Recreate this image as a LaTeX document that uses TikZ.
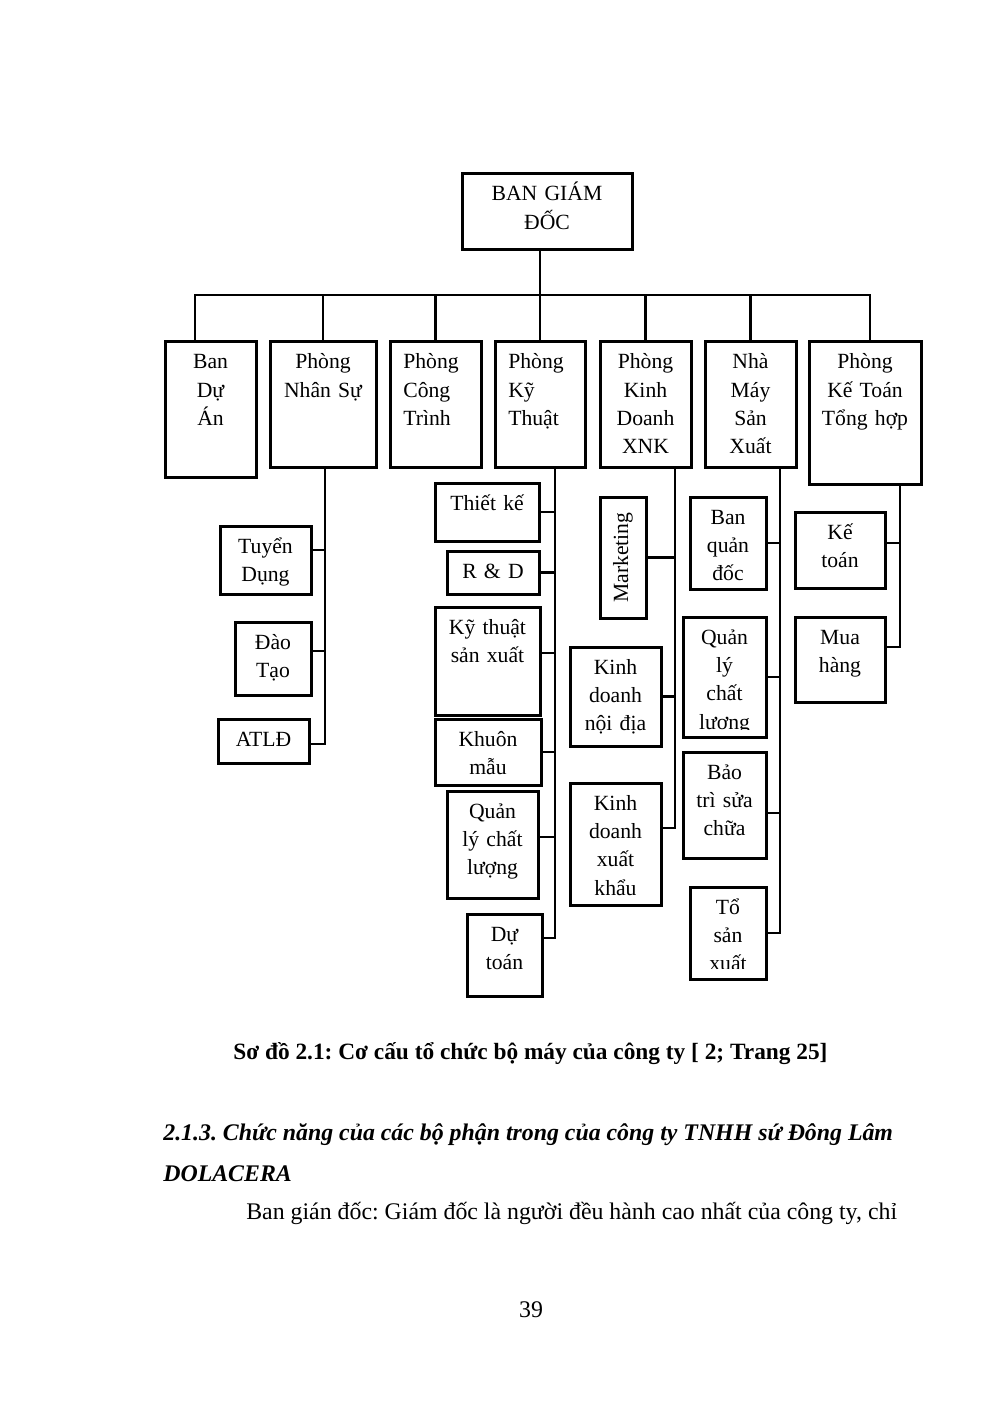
\documentclass[tikz,border=0pt]{standalone}
\usepackage{fontspec}
\setmainfont{Liberation Serif}
\usepackage{graphicx}
\frenchspacing

\newcommand\boxfont{\fontsize{13}{17}\selectfont}

\tikzset{
  box/.style 2 args={draw, line width=1.8pt, anchor=north west, outer sep=0pt,
    inner xsep=2pt, inner ysep=0pt, align=center, font=\boxfont,
    text width=#1*0.6pt-4pt, text height=16.2pt, text depth=#2*0.6pt-16.2pt},
  lbox/.style 2 args={box={#1}{#2}, inner xsep=8pt, align=left, text width=#1*0.6pt-16pt},
  vbox/.style 2 args={draw, line width=1.8pt, anchor=north west, outer sep=0pt,
    inner sep=0pt, font=\boxfont, minimum width=#1*0.6pt, minimum height=#2*0.6pt},
  link/.style={line width=1.5pt},
  txt/.style={anchor=base west, inner sep=0pt},
}

\begin{document}
\begin{tikzpicture}[x=0.6pt,y=-0.6pt]
  \useasboundingbox (0,0) rectangle (992,1403);

  % ban giam doc + phong ban
  \node[box={170}{76}] (bgd) at (462,174) {BAN GIÁM\\ĐỐC};

  \node[box={91}{135}] (bda) at (165,342) {Ban\\Dự\\Án};
  \node[box={106}{125}] (pns) at (270,342) {Phòng\\Nhân Sự};
  \node[lbox={91}{125}] (pct) at (390,342) {Phòng\\Công\\Trình};
  \node[lbox={90}{125}] (pkt) at (495,342) {Phòng\\Kỹ\\Thuật};
  \node[box={91}{125}] (pkd) at (600,342) {Phòng\\Kinh\\Doanh\\XNK};
  \node[box={91}{125}] (nmsx) at (705,342) {Nhà\\Máy\\Sản\\Xuất};
  \node[box={112}{142}] (pkto) at (809,342) {Phòng\\Kế Toán\\Tổng hợp};

  \coordinate (busl) at (195,295);
  \coordinate (busr) at (870,295);
  \draw[link] (busl |- bda.north) -- (busl) -- (busr) -- (busr |- pkto.north);
  \draw[link] (pkt.north) -- (pkt.north |- bgd.south);
  \foreach \n in {pns,pct,pkd,nmsx}
    \draw[link] (\n.north |- busl) -- (\n.north);

  % phong nhan su
  \node[box={91}{68}] (tdung) at (220,526) {Tuyển\\Dụng};
  \node[box={76}{73}] (dtao) at (235,622) {Đào\\Tạo};
  \node[box={91}{44}] (atld) at (218,719) {ATLĐ};

  % phong ky thuat
  \node[box={104}{58}] (tke) at (435,483) {Thiết kế};
  \node[box={92}{43}] (rd) at (447,551) {R \& D};
  \node[box={105}{108}] (ktsx) at (435,607) {Kỹ thuật\\sản xuất};
  \node[box={106}{66}] (kmau) at (435,719) {Khuôn\\mẫu};
  \node[box={91}{107}] (qlcl) at (447,791) {Quản\\lý chất\\lượng};
  \node[box={75}{82}] (dtoan) at (467,914) {Dự\\toán};

  % phong kinh doanh
  \node[vbox={46}{121}] (mkt) at (600,497) {\rotatebox{90}{Marketing}};
  \node[box={91}{99}] (kdnd) at (570,647) {Kinh\\doanh\\nội địa};
  \node[box={91}{122}] (kdxk) at (570,783) {Kinh\\doanh\\xuất\\khẩu};

  % nha may (chu bi cat o day)
  \begin{scope}
    \clip (686,493) rectangle (770,580);
    \node[box={76}{92}] (bqd) at (690,497) {Ban\\quản\\đốc};
  \end{scope}
  \draw[line width=1.8pt] (bqd.south west) rectangle (bqd.north east);
  \begin{scope}
    \clip (679,613) rectangle (770,729);
    \node[box={83}{120}] (qlcl2) at (683,617) {Quản\\lý\\chất\\lượng};
  \end{scope}
  \draw[line width=1.8pt] (qlcl2.south west) rectangle (qlcl2.north east);
  \node[box={83}{106}] (btsc) at (683,752) {Bảo\\trì sửa\\chữa};
  \begin{scope}
    \clip (686,883) rectangle (770,968);
    \node[box={76}{92}] (tsx) at (690,887) {Tổ\\sản\\xuất};
  \end{scope}
  \draw[line width=1.8pt] (tsx.south west) rectangle (tsx.north east);

  % ke toan
  \node[box={90}{76}] (kto) at (795,512) {Kế\\toán};
  \node[box={90}{85}] (mhang) at (795,617) {Mua\\hàng};

  % duong noi
  \coordinate (nsx) at (325,0);
  \coordinate (ktx) at (555,0);
  \coordinate (kdx) at (675,0);
  \coordinate (nmx) at (780,0);
  \coordinate (ktox) at (900,0);
  \foreach \c/\s in {tdung/6pt,dtao/4.5pt,atld/-1.8pt}
    \draw[link] (nsx |- pns.south) |- ([yshift=\s]\c.east);
  \foreach \c/\s in {tke/0pt,rd/0pt,ktsx/4.8pt,kmau/0pt,qlcl/4.5pt,dtoan/10.2pt}
    \draw[link] (ktx |- pkt.south) |- ([yshift=\s]\c.east);
  \foreach \c/\s in {mkt/0pt,kdnd/0pt,kdxk/9.6pt}
    \draw[link] (kdx |- pkd.south) |- ([yshift=\s]\c.east);
  \foreach \c/\s in {bqd/0pt,qlcl2/0pt,btsc/-4.8pt,tsx/0pt}
    \draw[link] (nmx |- nmsx.south) |- ([yshift=\s]\c.east);
  \foreach \c/\s in {kto/4.2pt,mhang/7.5pt}
    \draw[link] (ktox |- pkto.south) |- ([yshift=\s]\c.east);

  % chu thich va van ban
  \node[txt, font=\fontsize{14}{17}\selectfont\bfseries] (cap) at (233,1059)
    {Sơ đồ 2.1: Cơ cấu tổ chức bộ máy của công ty [ 2; Trang 25]};
  \node[txt, font=\fontsize{14.3}{17}\selectfont\bfseries\itshape] (hd1) at (163,1140)
    {2.1.3. Chức năng của các bộ phận trong của công ty TNHH sứ Đông Lâm};
  \node[txt, font=\fontsize{14.3}{17}\selectfont\bfseries\itshape] (hd2) at (163,1181) {DOLACERA};
  \node[txt, font=\fontsize{14.3}{17}\selectfont] (body) at (246,1219)
    {Ban gián đốc: Giám đốc là người đều hành cao nhất của công ty, chỉ};
  \node[inner sep=0pt, anchor=base, font=\fontsize{14.3}{17}\selectfont] (pgno) at (531,1317) {39};
\end{tikzpicture}
\end{document}
